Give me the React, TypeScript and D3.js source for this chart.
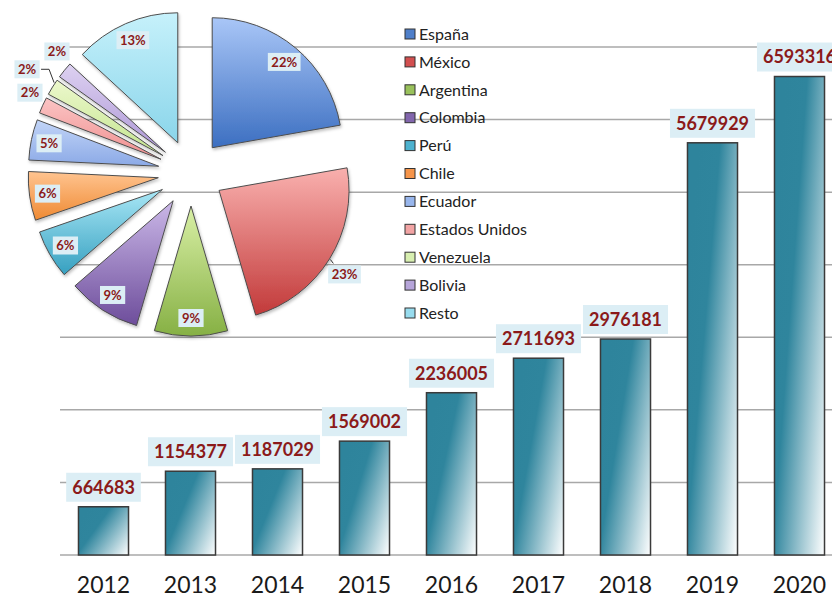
import React, { useRef, useEffect } from "react";
import * as d3 from "d3";

// bar chart data: yearly totals
const years = ["2012", "2013", "2014", "2015", "2016", "2017", "2018", "2019", "2020"];
const totals = [664683, 1154377, 1187029, 1569002, 2236005, 2711693, 2976181, 5679929, 6593316];
const gridValues = [0, 1000000, 2000000, 3000000, 4000000, 5000000, 6000000, 7000000];

// pie data: share by country (%)
const countries = [
  "España", "México", "Argentina", "Colombia", "Perú", "Chile",
  "Ecuador", "Estados Unidos", "Venezuela", "Bolivia", "Resto",
];
const shares = [22, 23, 9, 9, 6, 6, 5, 2, 2, 2, 13];

// styles
const W = 832;
const H = 598;
const sliceTop = ["#a9c6f7", "#f9b0ae", "#d9f0a6", "#cbb8e8", "#a9e7f6", "#ffc490", "#c2d5f8", "#fbc4c4", "#ecf8cc", "#ddd1f1", "#c6f1fb"];
const sliceBottom = ["#3c6fc1", "#c23a3a", "#86b044", "#6d4d9b", "#36a0c0", "#ef8a33", "#8ba9e6", "#ef8f8f", "#c3e48e", "#ad97d6", "#8ad5ea"];
const swatch = ["#4f7fc9", "#d24f4f", "#99c15b", "#8266ad", "#4db2cf", "#f6954a", "#98b6ec", "#f2a4a4", "#d8efb0", "#b6a5d9", "#98dcee"];
const labelRed = "#8b1a1a";
const boxBlue = "#dceef5";

// pie label placement tweaks (radius from slice tip, angle nudge in degrees)
const labelPlace: Record<string, [number, number]> = {
  "México": [151, 2],
  "Estados Unidos": [147, 2.4],
  "Venezuela": [161, 0.6],
  "Bolivia": [148, 3.8],
};

export default function App() {
  const ref = useRef<SVGSVGElement>(null);

  useEffect(() => {
    const svg = d3.select(ref.current);
    svg.selectAll("*").remove();
    const defs = svg.append("defs");

    const x = d3
      .scaleBand()
      .domain(years)
      .range([60, 843])
      .paddingInner(0.425)
      .paddingOuter(0.2125);
    const y = d3.scaleLinear().domain([0, 7000000]).range([555, 47]);

    // gridlines
    svg
      .append("g")
      .selectAll("line")
      .data(gridValues)
      .join("line")
      .attr("x1", 60)
      .attr("x2", W)
      .attr("y1", (d) => y(d))
      .attr("y2", (d) => y(d))
      .attr("stroke", "#a8a8a8")
      .attr("stroke-width", 1.5);

    // ---- pie ----
    const cx = 191;
    const cy = 173;
    const radius = 130;
    const explode = 33;

    const shadow = defs
      .append("filter")
      .attr("id", "sh")
      .attr("x", "-20%")
      .attr("y", "-20%")
      .attr("width", "140%")
      .attr("height", "140%");
    shadow
      .append("feDropShadow")
      .attr("dx", 1)
      .attr("dy", 2)
      .attr("stdDeviation", 1.5)
      .attr("flood-color", "#000")
      .attr("flood-opacity", 0.25);

    countries.forEach((c, i) => {
      const g = defs
        .append("linearGradient")
        .attr("id", "pg" + i)
        .attr("x1", 0)
        .attr("y1", 0)
        .attr("x2", 0)
        .attr("y2", 1);
      g.append("stop").attr("offset", 0).attr("stop-color", sliceTop[i]);
      g.append("stop").attr("offset", 1).attr("stop-color", sliceBottom[i]);
    });

    const pieData = d3
      .pie<number>()
      .sort(null)
      .value((d) => d)(shares);
    const arc = d3.arc<d3.PieArcDatum<number>>().innerRadius(0).outerRadius(radius);

    const tip = (d: d3.PieArcDatum<number>) => {
      const a = (d.startAngle + d.endAngle) / 2;
      return [cx + explode * Math.sin(a), cy - explode * Math.cos(a)];
    };

    const pie = svg.append("g");
    pie
      .selectAll("path")
      .data(pieData)
      .join("path")
      .attr("transform", (d) => `translate(${tip(d)[0]},${tip(d)[1]})`)
      .attr("d", arc)
      .attr("fill", (d, i) => `url(#pg${i})`)
      .attr("stroke", "#4d4d4d")
      .attr("stroke-width", 1)
      .attr("filter", "url(#sh)");

    const labelPos = (d: d3.PieArcDatum<number>, i: number) => {
      const [tx, ty] = tip(d);
      const place = labelPlace[countries[i]] || [112, 0];
      const a = (d.startAngle + d.endAngle) / 2 + (place[1] * Math.PI) / 180;
      return [tx + place[0] * Math.sin(a), ty - place[0] * Math.cos(a)];
    };

    // leader lines
    pieData.forEach((d, i) => {
      const [tx, ty] = tip(d);
      const a = (d.startAngle + d.endAngle) / 2;
      const [lx, ly] = labelPos(d, i);
      if (countries[i] === "Venezuela") {
        const ea = a + (2 * Math.PI) / 180;
        const ex = tx + (radius + 1) * Math.sin(ea);
        const ey = ty - (radius + 1) * Math.cos(ea);
        pie
          .append("path")
          .attr("d", `M${lx + 14},${ly}L${lx + 22},${ly}L${ex},${ey}`)
          .attr("fill", "none")
          .attr("stroke", "#333")
          .attr("stroke-width", 1);
      }
      if (countries[i] === "México") {
        const ex = tx + (radius + 1) * Math.sin(a);
        const ey = ty - (radius + 1) * Math.cos(a);
        pie
          .append("path")
          .attr("d", `M${ex},${ey}L${ex + 3},${ey + 4}`)
          .attr("fill", "none")
          .attr("stroke", "#333")
          .attr("stroke-width", 1);
      }
    });

    const pl = pie
      .selectAll("g.pl")
      .data(pieData)
      .join("g")
      .attr("class", "pl")
      .attr("transform", (d, i) => {
        const [lx, ly] = labelPos(d, i);
        return `translate(${lx},${ly})`;
      });
    pl.append("rect").attr("fill", boxBlue);
    pl.append("text")
      .attr("text-anchor", "middle")
      .attr("dy", "0.36em")
      .attr("font-family", "Lato")
      .attr("font-weight", "bold")
      .attr("font-size", 13)
      .attr("fill", labelRed)
      .text((d) => d.value + "%");
    pl.each(function () {
      const g = d3.select(this);
      const w = (g.select("text").node() as SVGTextElement).getComputedTextLength() + 7;
      g.select("rect")
        .attr("x", -w / 2)
        .attr("y", -9)
        .attr("width", w)
        .attr("height", 18);
    });

    // ---- legend ----
    const legend = svg
      .append("g")
      .selectAll("g")
      .data(countries)
      .join("g")
      .attr("transform", (d, i) => `translate(405,${34 + i * 27.9})`);
    legend
      .append("rect")
      .attr("x", 0)
      .attr("y", -5)
      .attr("width", 10)
      .attr("height", 10)
      .attr("fill", (d, i) => swatch[i])
      .attr("stroke", "#333")
      .attr("stroke-width", 1);
    legend
      .append("text")
      .attr("x", 14)
      .attr("dy", "0.36em")
      .attr("font-family", "Lato")
      .attr("font-size", 16)
      .attr("fill", "#222")
      .text((d) => d);

    // ---- bars ----
    const bg = defs
      .append("linearGradient")
      .attr("id", "barGrad")
      .attr("x1", 0)
      .attr("y1", 0.3)
      .attr("x2", 1)
      .attr("y2", 1);
    bg.append("stop").attr("offset", 0).attr("stop-color", "#2e849c");
    bg.append("stop").attr("offset", 0.3).attr("stop-color", "#2f859d");
    bg.append("stop").attr("offset", 1).attr("stop-color", "#ffffff");

    svg
      .append("g")
      .selectAll("rect")
      .data(totals)
      .join("rect")
      .attr("x", (d, i) => x(years[i])!)
      .attr("y", (d) => y(d))
      .attr("width", x.bandwidth())
      .attr("height", (d) => y(0) - y(d))
      .attr("fill", "url(#barGrad)")
      .attr("stroke", "#3a3a3a")
      .attr("stroke-width", 1.5);

    // value labels
    const vl = svg
      .append("g")
      .selectAll("g")
      .data(totals)
      .join("g")
      .attr("transform", (d, i) => `translate(${x(years[i])! + x.bandwidth() / 2},${y(d) - 19.5})`);
    vl.append("rect").attr("fill", boxBlue);
    vl.append("text")
      .attr("text-anchor", "middle")
      .attr("dy", "0.36em")
      .attr("font-family", "Lato")
      .attr("font-weight", "bold")
      .attr("font-size", 18)
      .attr("fill", labelRed)
      .text((d) => String(d));
    vl.each(function () {
      const g = d3.select(this);
      const w = (g.select("text").node() as SVGTextElement).getComputedTextLength() + 12;
      g.select("rect")
        .attr("x", -w / 2)
        .attr("y", -14.5)
        .attr("width", w)
        .attr("height", 29);
    });

    // year axis labels
    svg
      .append("g")
      .selectAll("text")
      .data(years)
      .join("text")
      .attr("x", (d) => x(d)! + x.bandwidth() / 2)
      .attr("y", 593)
      .attr("text-anchor", "middle")
      .attr("font-family", "Lato")
      .attr("font-size", 23)
      .attr("fill", "#1a1a1a")
      .text((d) => d);
  }, []);

  return (
    <svg
      ref={ref}
      width={W}
      height={H}
      style={{ position: "absolute", left: 0, top: 0, background: "#fff" }}
    />
  );
}
